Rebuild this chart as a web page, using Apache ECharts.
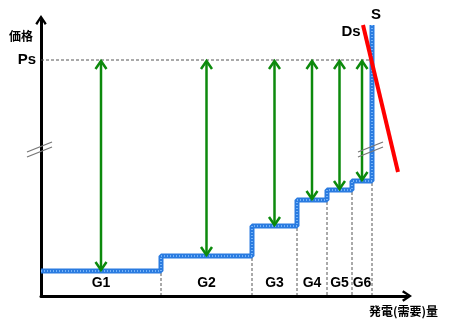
<!DOCTYPE html>
<html>
<head>
<meta charset="utf-8">
<script src="https://cdn.jsdelivr.net/npm/echarts@6/dist/echarts.min.js"></script>
<style>
  html, body { margin: 0; padding: 0; background: #fff; }
  #chart { width: 450px; height: 322px; }
</style>
</head>
<body>
<div id="chart"></div>
<script>
// Merit-order supply stack: each generator's capacity and bid price
const generators = ['G1', 'G2', 'G3', 'G4', 'G5', 'G6'];
const capacities = [120, 91, 45, 30, 25, 20];
const bidPrices = [25, 40, 70, 96, 106, 115];
const clearingPrice = 236;          // Ps
const supplyTopPrice = 271;         // top of the vertical S segment
const demandLine = [[322, 271], [357, 124]];  // Ds
const breakPrice = 147;             // where the price axis is broken
const curveNames = ['S', 'Ds'];
const xMax = 366;
const yMax = 276;

// cumulative capacity boundaries
const bounds = [];
let acc = 0;
capacities.forEach(c => { bounds.push([acc, acc + c]); acc += c; });
const totalCap = acc;

const supplyData = bidPrices.map((p, i) => [bounds[i][0], p]);
supplyData.push([totalCap, supplyTopPrice]);

const arrowData = generators.map((g, i) => [(bounds[i][0] + bounds[i][1]) / 2, bidPrices[i], clearingPrice, g]);
const dividerData = bounds.map((b, i) => [b[1], bidPrices[i]]);
const breakData = [[0, breakPrice], [totalCap, breakPrice]];
// curve names sit next to the upper end of each curve
const curveLabelData = [
  [totalCap, supplyTopPrice, curveNames[0]],
  [demandLine[0][0], demandLine[0][1], curveNames[1]]
];

const GREEN = '#0c8a0c';
const BLUE = '#2a7be0';
const chevron = 'path://M6,0 L12,9 L10,10.5 L6,4 L2,10.5 L0,9 Z';
const LATIN = '"Liberation Sans", Arial, sans-serif';
const CJK = '"Noto Sans CJK JP", sans-serif';

const chart = echarts.init(document.getElementById('chart'));

function renderArrow(params, api) {
  const x = api.value(0);
  const bottom = api.coord([x, api.value(1)]);
  const top = api.coord([x, api.value(2)]);
  const base = api.coord([x, 0]);
  const hw = 5.5, hh = 9;
  const stroke = { stroke: GREEN, lineWidth: 2.5, fill: null };
  return {
    type: 'group',
    children: [
      { type: 'line', shape: { x1: top[0], y1: top[1] + 1, x2: bottom[0], y2: bottom[1] - 1 }, style: stroke },
      { type: 'polyline', shape: { points: [[top[0] - hw, top[1] + hh], [top[0], top[1] + 1], [top[0] + hw, top[1] + hh]] }, style: stroke },
      { type: 'polyline', shape: { points: [[bottom[0] - hw, bottom[1] - hh], [bottom[0], bottom[1] - 1], [bottom[0] + hw, bottom[1] - hh]] }, style: stroke },
      { type: 'text', style: { text: api.value(3), x: base[0], y: base[1] - 13,
          align: 'center', verticalAlign: 'middle', textAlign: 'center', textVerticalAlign: 'middle',
          font: 'bold 14px ' + LATIN, fill: '#000' } }
    ]
  };
}

function renderDivider(params, api) {
  const top = api.coord([api.value(0), api.value(1)]);
  const bot = api.coord([api.value(0), 0]);
  return { type: 'line', shape: { x1: top[0], y1: top[1] + 2, x2: bot[0], y2: bot[1] - 1 },
           style: { stroke: '#555', lineWidth: 1, lineDash: [3, 2] } };
}

function renderBreak(params, api) {
  const c = api.coord([api.value(0), api.value(1)]);
  const st = { stroke: '#777', lineWidth: 1.3 };
  return {
    type: 'group',
    children: [
      { type: 'line', shape: { x1: c[0] - 14, y1: c[1] + 3, x2: c[0] + 11, y2: c[1] - 7 }, style: st },
      { type: 'line', shape: { x1: c[0] - 14, y1: c[1] + 8, x2: c[0] + 11, y2: c[1] - 2 }, style: st }
    ]
  };
}

function renderCurveLabel(params, api) {
  const p = api.coord([api.value(0), api.value(1)]);
  const isSupply = params.dataIndex === 0;
  return {
    type: 'text',
    style: {
      text: api.value(2),
      x: isSupply ? p[0] + 4 : p[0] - 12,
      y: isSupply ? p[1] - 10 : p[1] + 7,
      align: 'center', verticalAlign: 'middle', textAlign: 'center', textVerticalAlign: 'middle',
      font: 'bold 15px ' + LATIN, fill: '#000'
    }
  };
}

const axisLineStyle = { color: '#000', width: 3 };

chart.setOption({
  animation: false,
  grid: { left: 41, right: 43, top: 20, bottom: 26 },
  xAxis: {
    type: 'value', min: 0, max: xMax,
    splitLine: { show: false }, axisTick: { show: false }, axisLabel: { show: false },
    axisLine: { show: true, symbol: ['none', chevron], symbolSize: [12, 10], lineStyle: axisLineStyle }
  },
  yAxis: {
    type: 'value', min: 0, max: yMax,
    splitLine: { show: false }, axisTick: { show: false },
    axisLabel: { show: true, customValues: [clearingPrice], formatter: () => 'Ps',
                 fontSize: 15, fontWeight: 'bold', color: '#000', margin: 5, fontFamily: LATIN },
    axisLine: { show: true, symbol: ['none', chevron], symbolSize: [12, 10], lineStyle: axisLineStyle }
  },
  graphic: [
    { type: 'text', x: 9, y: 36, style: { text: '価格', font: 'bold 12px ' + CJK, fill: '#000',
        verticalAlign: 'middle', textVerticalAlign: 'middle' } },
    { type: 'text', x: 438, y: 311, style: { text: '発電(需要)量', font: 'bold 12px ' + CJK, fill: '#000',
        align: 'right', textAlign: 'right', verticalAlign: 'middle', textVerticalAlign: 'middle' } }
  ],
  series: [
    {
      type: 'custom', renderItem: renderDivider, data: dividerData, silent: true, z: 1
    },
    {
      type: 'line', data: [[0, clearingPrice], [totalCap, clearingPrice]], symbol: 'none', silent: true, z: 1,
      lineStyle: { color: '#555', width: 1, type: [3, 2] }
    },
    {
      name: 'S', type: 'line', step: 'end', symbol: 'none', silent: true, z: 2,
      data: supplyData,
      lineStyle: { color: BLUE, width: 5 }
    },
    {
      type: 'line', step: 'end', symbol: 'none', silent: true, z: 3,
      data: supplyData,
      lineStyle: { color: '#8cc4ff', width: 1.5, type: [1, 2] }
    },
    {
      type: 'custom', renderItem: renderArrow, data: arrowData, silent: true, z: 4
    },
    {
      name: 'Ds', type: 'line', symbol: 'none', silent: true, z: 5,
      data: demandLine,
      lineStyle: { color: '#ff0000', width: 4 }
    },
    {
      type: 'custom', renderItem: renderBreak, data: breakData, silent: true, z: 6
    },
    {
      type: 'custom', renderItem: renderCurveLabel, data: curveLabelData, silent: true, z: 7
    }
  ]
});
</script>
</body>
</html>
